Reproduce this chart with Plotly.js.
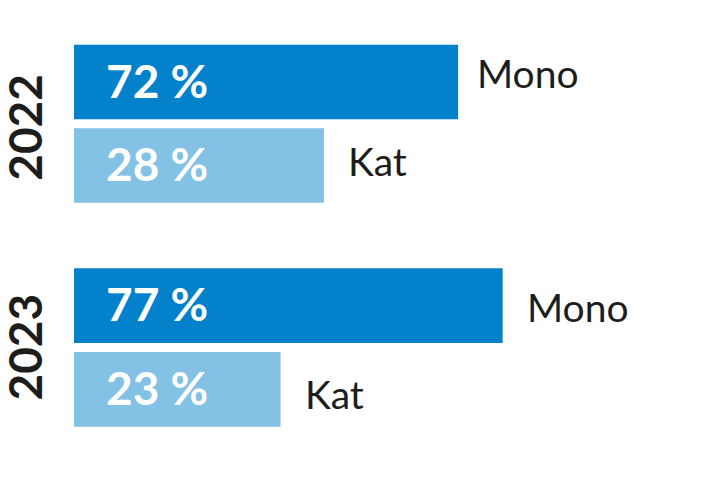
<!DOCTYPE html>
<html>
<head>
<meta charset="utf-8">
<script src="https://cdn.plot.ly/plotly-3.0.1.min.js"></script>
<style>html,body{margin:0;padding:0;background:#fff;}#chart{width:712px;height:499px;}</style>
</head>
<body>
<div id="chart"></div>
<script>
// ---- data ----
var years = ["2022", "2023"];
var categories = ["Mono", "Kat"];
var share2022 = [72, 28];          // percent labels shown in the bars
var share2023 = [77, 23];
var barLength2022 = [69, 44.9];    // bar lengths as drawn in the picture (display units)
var barLength2023 = [77, 37.1];

// ---- styles ----
var darkBlue = "#0481CB";
var lightBlue = "#84C2E5";
var colors = [darkBlue, lightBlue];
var textDark = "#1d1d1b";

var shares = [share2022, share2023];
var lengths = [barLength2022, barLength2023];
var yaxes = ["y", "y2"];
var domains = [[0.5847, 0.9193], [0.1353, 0.4719]];

var traces = [];
var annotations = [];
var labelShift = [[9, 4], [-1, -5]];
var labelXShift = [[17, 22], [22, 22]];

for (var g = 0; g < years.length; g++) {
  traces.push({
    type: "bar",
    orientation: "h",
    y: categories,
    x: lengths[g],
    xaxis: "x",
    yaxis: yaxes[g],
    marker: {color: colors, line: {width: 0}},
    hoverinfo: "skip"
  });
  for (var i = 0; i < categories.length; i++) {
    annotations.push({
      xref: "x", yref: yaxes[g],
      x: 0, y: categories[i],
      text: "<b>" + shares[g][i] + " %</b>",
      showarrow: false, xanchor: "left", yanchor: "middle",
      xshift: 30, yshift: 2,
      font: {family: "Lato", size: 46, color: "#ffffff"}
    });
    annotations.push({
      xref: "x", yref: yaxes[g],
      x: lengths[g][i], y: categories[i],
      text: categories[i],
      showarrow: false, xanchor: "left", yanchor: "middle",
      xshift: labelXShift[g][i], yshift: labelShift[g][i],
      font: {family: "Lato", size: 39, color: textDark}
    });
  }
  annotations.push({
    xref: "paper", yref: "paper",
    x: 0, y: (domains[g][0] + domains[g][1]) / 2,
    text: "<b>" + years[g] + "</b>",
    textangle: -90,
    showarrow: false, xanchor: "center", yanchor: "middle",
    xshift: -49, yshift: g === 0 ? -4 : 0,
    font: {family: "Lato", size: 46, color: textDark}
  });
}

var layout = {
  width: 712, height: 499,
  margin: {l: 74, r: 0, t: 0, b: 0},
  paper_bgcolor: "#ffffff", plot_bgcolor: "#ffffff",
  showlegend: false,
  bargap: 0.11,
  xaxis: {range: [0, 114.6], visible: false, fixedrange: true},
  yaxis: {type: "category", categoryarray: categories, range: [1.5, -0.5], domain: domains[0], visible: false, fixedrange: true},
  yaxis2: {type: "category", categoryarray: categories, range: [1.5, -0.5], domain: domains[1], anchor: "x", visible: false, fixedrange: true},
  annotations: annotations
};

Plotly.newPlot("chart", traces, layout, {staticPlot: true, displayModeBar: false});
</script>
</body>
</html>
